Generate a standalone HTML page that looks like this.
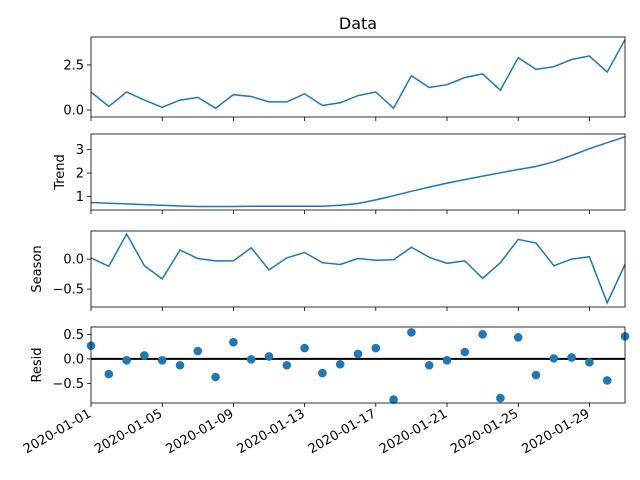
<!DOCTYPE html>
<html><head><meta charset="utf-8"><style>body{margin:0;background:#fff}svg{display:block;font-family:"DejaVu Sans","Liberation Sans",sans-serif}</style></head>
<body>
<svg id="c" width="640" height="480"></svg>
<script>
const dates=["2020-01-01","2020-01-05","2020-01-09","2020-01-13","2020-01-17","2020-01-21","2020-01-25","2020-01-29"];
const dataVals=[1.0,0.2,1.0,0.55,0.15,0.55,0.7,0.1,0.85,0.75,0.45,0.45,0.9,0.25,0.4,0.8,1.0,0.1,1.9,1.25,1.4,1.8,2.0,1.1,2.9,2.25,2.4,2.8,3.0,2.1,3.9];
const trendVals=[0.74,0.71,0.68,0.65,0.62,0.59,0.57,0.57,0.57,0.58,0.58,0.58,0.58,0.58,0.62,0.7,0.85,1.03,1.22,1.4,1.57,1.72,1.87,2.01,2.15,2.28,2.48,2.75,3.04,3.3,3.55];
const seasonVals=[0.02,-0.12,0.42,-0.11,-0.33,0.15,0.01,-0.03,-0.03,0.19,-0.18,0.02,0.11,-0.06,-0.09,0.01,-0.02,-0.01,0.2,0.03,-0.07,-0.03,-0.32,-0.06,0.33,0.27,-0.11,0.0,0.04,-0.73,-0.09];
const residVals=[0.27,-0.31,-0.03,0.07,-0.03,-0.13,0.16,-0.37,0.34,-0.01,0.05,-0.13,0.22,-0.29,-0.11,0.1,0.22,-0.83,0.54,-0.13,-0.03,0.14,0.5,-0.8,0.44,-0.33,0.01,0.03,-0.07,-0.44,0.46];
const NS="http://www.w3.org/2000/svg",svg=document.getElementById('c');
function mk(t,a,p){const e=document.createElementNS(NS,t);for(const k in a)e.setAttribute(k,a[k]);(p||svg).appendChild(e);return e;}
const X0=91,X1=625;
function xs(i){return X0+(X1-X0)*i/30;}
const panels=[
 {name:'data',vals:dataVals,top:37,bot:117,ymin:-0.39,ymax:4.05,ticks:[0,2.5],tl:["0.0","2.5"],label:null,lx:0,kind:'line'},
 {name:'trend',vals:trendVals,top:134,bot:210,ymin:0.42,ymax:3.67,ticks:[1,2,3],tl:["1","2","3"],label:'Trend',lx:64,kind:'line'},
 {name:'season',vals:seasonVals,top:231,bot:307,ymin:-0.8,ymax:0.47,ticks:[-0.5,0],tl:["−0.5","0.0"],label:'Season',lx:41,kind:'line'},
 {name:'resid',vals:residVals,top:327,bot:403,ymin:-0.9,ymax:0.65,ticks:[-0.5,0,0.5],tl:["−0.5","0.0","0.5"],label:'Resid',lx:41,kind:'dot'}];
panels.forEach((p,pi)=>{
 const g=mk('g',{});
 
 
 const ys=v=>p.bot-(v-p.ymin)/(p.ymax-p.ymin)*(p.bot-p.top);
 p.ticks.forEach((t,i)=>{const y=ys(t);
  mk('line',{x1:X0-4,x2:X0,y1:y,y2:y,stroke:'#000','stroke-width':0.8},g);
  const tx=mk('text',{x:X0-7,y:y+4.5,'text-anchor':'end','font-size':13},g);tx.textContent=p.tl[i];
  });
 dates.forEach((d,i)=>{const x=xs(i*4);mk('line',{x1:x,x2:x,y1:p.bot,y2:p.bot+4,stroke:'#000','stroke-width':0.8},g);
  if(pi===3){const t=mk('text',{x:0,y:0,'text-anchor':'end','font-size':13,transform:`translate(${x+1},${p.bot+13}) rotate(-30)`},g);t.textContent=d;
   }});
 if(p.kind==='line'){
  const pts=p.vals.map((v,i)=>xs(i).toFixed(1)+','+ys(v).toFixed(1)).join(' ');
  const l=mk('polyline',{points:pts,fill:'none',stroke:'#1f77b4','stroke-width':1.5},g);
  
 } else {
  const z=mk('line',{x1:X0,x2:X1,y1:ys(0),y2:ys(0),stroke:'#000','stroke-width':2},g);
  
  p.vals.forEach((v,i)=>{const c=mk('circle',{cx:xs(i),cy:ys(v),r:4.3,fill:'#1f77b4'},g);
   });
 }
 const r=mk('rect',{x:X0,y:p.top,width:X1-X0,height:p.bot-p.top,fill:'none',stroke:'#000','stroke-width':0.8},g);
 if(p.label){const t=mk('text',{'text-anchor':'middle','font-size':13,transform:`translate(${p.lx},${(p.top+p.bot)/2}) rotate(-90)`},g);t.textContent=p.label;
  }
});
const tt=mk('text',{x:358,y:29,'text-anchor':'middle','font-size':16});tt.textContent='Data';

</script>
</body></html>
